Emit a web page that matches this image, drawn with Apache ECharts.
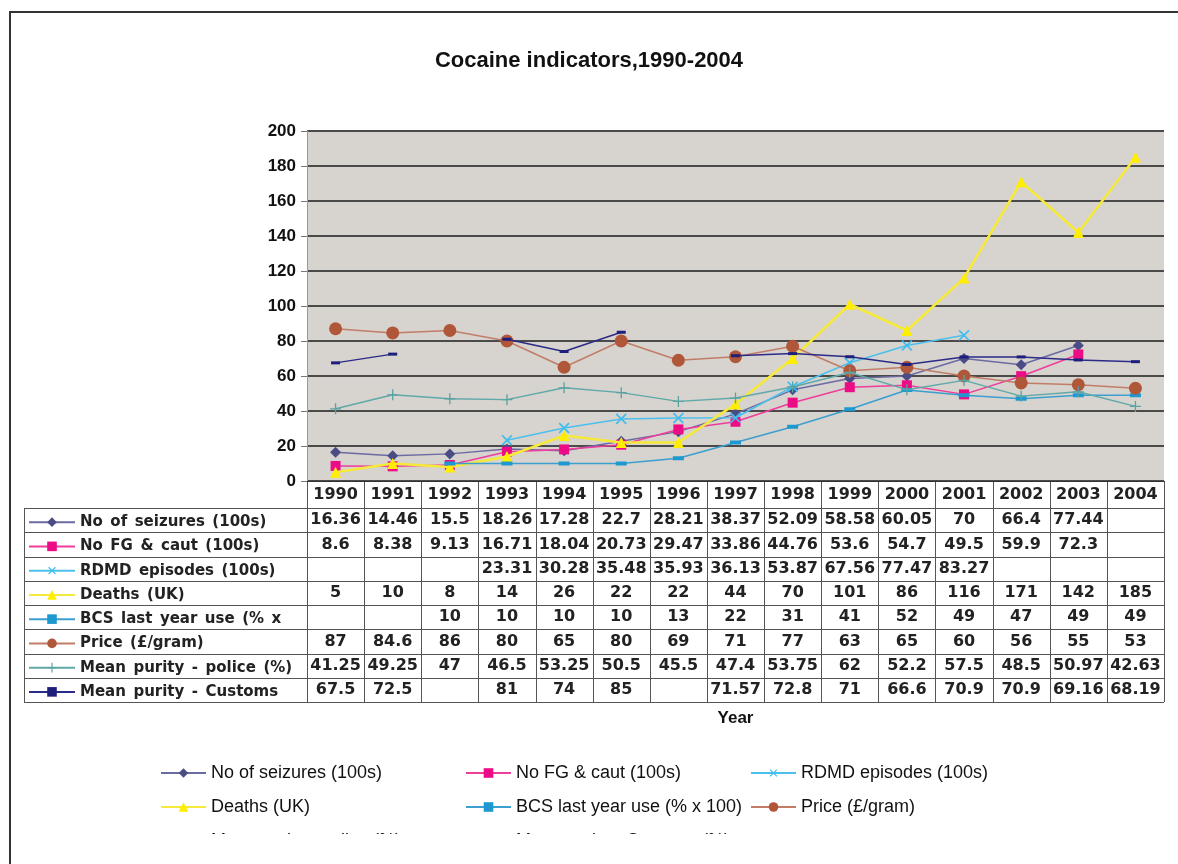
<!DOCTYPE html>
<html><head><meta charset="utf-8">
<script src="https://cdn.jsdelivr.net/npm/echarts@6/dist/echarts.min.js"></script>
<style>html,body{margin:0;padding:0;background:#fff}#c{width:1178px;height:864px}</style>
</head><body><div id="c"></div>
<script>
const years = ['1990','1991','1992','1993','1994','1995','1996','1997','1998','1999','2000','2001','2002','2003','2004'];
const yTicks = { min: 0, max: 200, interval: 20 };
const seizures = [16.36,14.46,15.5,18.26,17.28,22.7,28.21,38.37,52.09,58.58,60.05,70,66.4,77.44,null];
const fgCaut   = [8.6,8.38,9.13,16.71,18.04,20.73,29.47,33.86,44.76,53.6,54.7,49.5,59.9,72.3,null];
const rdmd     = [null,null,null,23.31,30.28,35.48,35.93,36.13,53.87,67.56,77.47,83.27,null,null,null];
const deaths   = [5,10,8,14,26,22,22,44,70,101,86,116,171,142,185];
const bcs      = [null,null,10,10,10,10,13,22,31,41,52,49,47,49,49];
const price    = [87,84.6,86,80,65,80,69,71,77,63,65,60,56,55,53];
const police   = [41.25,49.25,47,46.5,53.25,50.5,45.5,47.4,53.75,62,52.2,57.5,48.5,50.97,42.63];
const customs  = [67.5,72.5,null,81,74,85,null,71.57,72.8,71,66.6,70.9,70.9,69.16,68.19];
const names = ['No of seizures (100s)','No FG & caut (100s)','RDMD episodes (100s)','Deaths (UK)',
  'BCS last year use (% x 100)','Price (£/gram)','Mean purity - police (%)','Mean purity - Customs (%)'];
const rows = [seizures, fgCaut, rdmd, deaths, bcs, price, police, customs];

const PLUS = 'path://M4.4,0H5.6V4.4H10V5.6H5.6V10H4.4V5.6H0V4.4H4.4Z';
const styles = [
  { line:'#6b6ba3', mark:'#4b4b86', symbol:'diamond', size:11, lw:1.5 },
  { line:'#ee3d9b', mark:'#ec0c86', symbol:'rect', size:10, lw:1.5 },
  { line:'#4cc0ec', mark:'#3fbdee', symbol:PLUS, size:14, lw:1.5, rot:45 },
  { line:'#f5e93a', mark:'#ffee00', symbol:'triangle', size:11, lw:2.5 },
  { line:'#3c9fd0', mark:'#1e98d0', symbol:'rect', size:[11,4], lw:1.5 },
  { line:'#c27d68', mark:'#b0573a', symbol:'circle', size:13, lw:1.5 },
  { line:'#5fa9a9', mark:'#5aa3a3', symbol:PLUS, size:11, lw:1.5 },
  { line:'#2b2b88', mark:'#1e1e7c', symbol:'rect', size:[9,3], lw:1.5 }
];
const FONT_TBL = '"DejaVu Sans", Verdana, sans-serif';
const FONT_SANS = '"Liberation Sans", Arial, sans-serif';

const series = names.map((n, i) => ({
  name: n, type: 'line', data: rows[i],
  symbol: styles[i].symbol, symbolSize: styles[i].size, symbolRotate: styles[i].rot || 0,
  showAllSymbol: true, connectNulls: false,
  lineStyle: { color: styles[i].line, width: styles[i].lw },
  itemStyle: { color: styles[i].mark },
  z: 2 + i, animation: false
}));

const ROW_TOP = 508, ROW_H = 24.25, TBL_LEFT = 24;

const chart = echarts.init(document.getElementById('c'));
const legendTbl = {
  orient: 'vertical', left: 28, top: ROW_TOP + ROW_H/2 - 6, padding: 0,
  itemWidth: 46, itemHeight: 12, itemGap: ROW_H - 16,
  data: names, selectedMode: false,
  formatter: n => n.replace(/ /g, '\u2002'),
  textStyle: { fontFamily: FONT_TBL, fontWeight: 'bold', fontSize: 15, color: '#222',
    lineHeight: 16, width: 232, overflow: 'truncate', ellipsis: '' }
};
const legBottom = (left, items) => ({
  orient: 'vertical', left: left, top: 764, padding: 0,
  itemWidth: 45, itemHeight: 12, itemGap: 16, selectedMode: false,
  data: items,
  textStyle: { fontFamily: FONT_SANS, fontSize: 18, color: '#111', lineHeight: 18 }
});

chart.setOption({
  animation: false,
  backgroundColor: '#fff',
  title: { text: 'Cocaine indicators,1990-2004', left: 'center', top: 45,
    textStyle: { fontFamily: FONT_SANS, fontWeight: 'bold', fontSize: 22, color: '#111' } },
  grid: { left: 307, right: 14, top: 131, height: 350, backgroundColor: '#d7d3ce', show: true, borderWidth: 0 },
  legend: [legendTbl,
    legBottom(160, [names[0], names[3], names[6]]),
    legBottom(465, [names[1], names[4], names[7]]),
    legBottom(750, [names[2], names[5]])],
  xAxis: { type: 'category', data: years, boundaryGap: true,
    name: 'Year', nameLocation: 'middle', nameGap: 229,
    nameTextStyle: { fontFamily: FONT_SANS, fontWeight: 'bold', fontSize: 17, color: '#111' },
    axisLine: { lineStyle: { color: '#333', width: 1 } }, axisTick: { show: false },
    axisLabel: { interval: 0, margin: 6, fontFamily: FONT_TBL, fontWeight: 'bold', fontSize: 16, color: '#222' } },
  yAxis: { type: 'value', min: yTicks.min, max: yTicks.max, interval: yTicks.interval,
    axisLine: { show: true, lineStyle: { color: '#999' } },
    axisTick: { show: true, length: 6, lineStyle: { color: '#777' } },
    axisLabel: { margin: 11, fontFamily: FONT_SANS, fontWeight: 'bold', fontSize: 17, color: '#111' },
    splitLine: { lineStyle: { color: '#4a4a4a', width: 2 } } },
  series: series
});

// build data table via the category axis scale
const cx = i => chart.convertToPixel({ xAxisIndex: 0 }, i);
const step = cx(1) - cx(0);
const bounds = years.map((_, i) => cx(i) - step/2).concat([cx(years.length-1) + step/2]);
const axisY = chart.convertToPixel({ yAxisIndex: 0 }, 0);
const bottom = ROW_TOP + ROW_H * rows.length;
const right = bounds[bounds.length-1];
const g = [];
const ls = { stroke: '#555', lineWidth: 1 };
for (let k = 0; k <= rows.length; k++) {
  const y = Math.round(ROW_TOP + k*ROW_H) + 0.5;
  g.push({ type: 'line', shape: { x1: TBL_LEFT, y1: y, x2: right, y2: y }, style: ls, silent: true });
}
bounds.forEach(b => g.push({ type: 'line', shape: { x1: Math.round(b)+0.5, y1: axisY, x2: Math.round(b)+0.5, y2: bottom }, style: ls, silent: true }));
g.push({ type: 'line', shape: { x1: TBL_LEFT+0.5, y1: ROW_TOP, x2: TBL_LEFT+0.5, y2: bottom }, style: ls, silent: true });
rows.forEach((arr, r) => arr.forEach((v, i) => {
  if (v == null) return;
  g.push({ type: 'text', silent: true, style: { text: String(v), x: cx(i), y: ROW_TOP + ROW_H*(r+0.5),
    align: 'center', verticalAlign: 'middle', font: 'bold 16px ' + FONT_TBL, fill: '#222' } });
}));
// outer frame
g.push({ type: 'rect', shape: { x: 10, y: 12, width: 1300, height: 1000 }, style: { fill: 'none', stroke: '#333', lineWidth: 2 }, silent: true });
// clipped bottom strip (third legend row cut off in the original)
g.push({ type: 'rect', shape: { x: 12, y: 834, width: 1170, height: 40 }, style: { fill: '#fff' }, z: 100, silent: true });
chart.setOption({ graphic: g });
</script></body></html>
